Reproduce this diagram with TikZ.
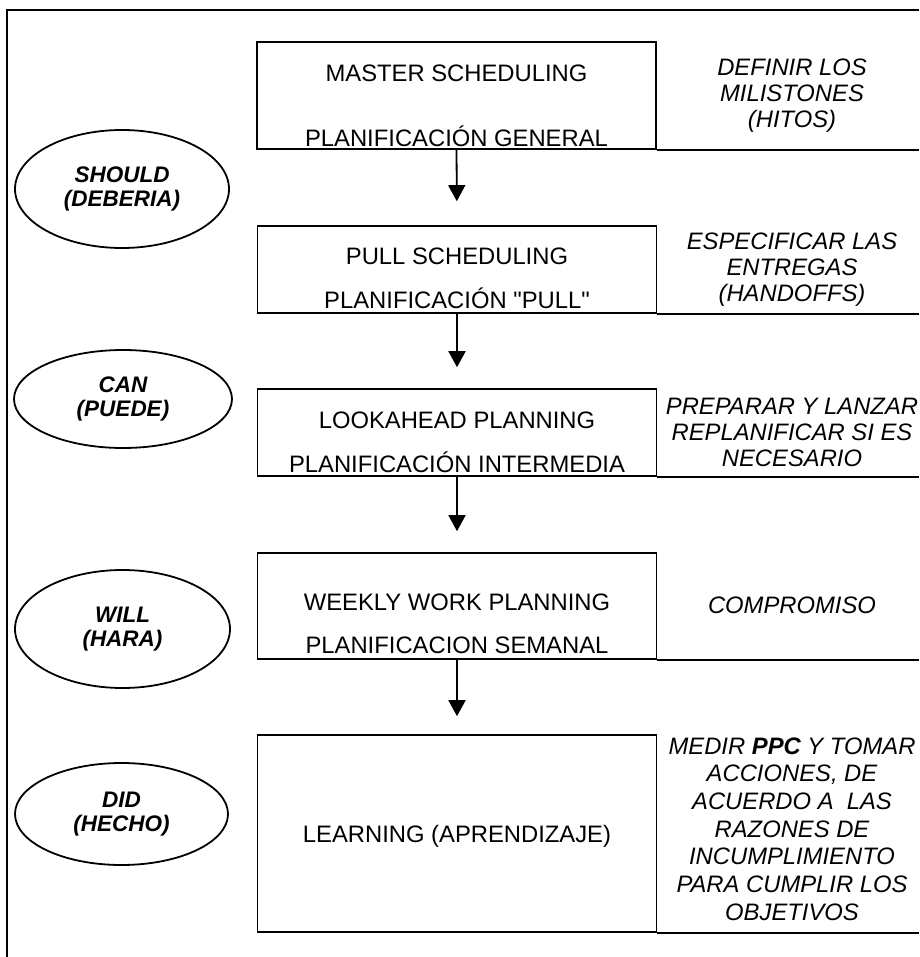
\documentclass[tikz,border=0pt]{standalone}
\usepackage{fontspec}
\setmainfont{Liberation Sans}[Ligatures=TeXOff]
\usetikzlibrary{arrows.meta,shapes.geometric}
\begin{document}
\begin{tikzpicture}[x=1pt,y=-1pt,
  stagebox/.style={draw, line width=1.6pt, inner sep=0pt, minimum width=399pt},
  boxtext/.style={anchor=base, inner sep=0pt, font=\fontsize{23.8}{27}\selectfont},
  goal/.style={align=center, inner sep=0pt, font=\fontsize{23.8}{26}\selectfont\itshape},
  mode/.style={draw, ellipse, line width=1.8pt, inner sep=0pt, align=center,
    font=\fontsize{22.5}{24.5}\selectfont\bfseries\itshape},
  flow/.style={-{Triangle[length=16pt,width=17pt]}, line width=1.8pt},
  rowrule/.style={line width=1.6pt}]

\useasboundingbox (0,0) rectangle (919,957);
\fill[white] (0,0) rectangle (919,957);

% outer frame (top and left sides)
\coordinate (fbl) at (7,957);
\coordinate (ftl) at (7,10);
\coordinate (ftr) at (919,10);
\draw[line width=1.8pt] (fbl) -- (ftl) -- (ftr);

% planning stages
\node[stagebox, minimum height=107pt] (b1) at (456.5,95.5) {};
\node[stagebox, minimum height=87pt]  (b2) at (457,269.5) {};
\node[stagebox, minimum height=87pt]  (b3) at (457,432.5) {};
\node[stagebox, minimum height=106pt] (b4) at (457,606) {};
\node[stagebox, minimum height=197pt] (b5) at (457,833.5) {};

\node[boxtext] (t1a) at (456.5,82)  {MASTER SCHEDULING};
\node[boxtext] (t1b) at (456.5,147) {PLANIFICACIÓN GENERAL};
\node[boxtext] (t2a) at (457,265) {PULL SCHEDULING};
\node[boxtext] (t2b) at (457,308) {PLANIFICACIÓN "PULL"};
\node[boxtext] (t3a) at (457,428) {LOOKAHEAD PLANNING};
\node[boxtext] (t3b) at (457,472) {PLANIFICACIÓN INTERMEDIA};
\node[boxtext] (t4a) at (457,610) {WEEKLY WORK PLANNING};
\node[boxtext] (t4b) at (457,653) {PLANIFICACION SEMANAL};
\node[boxtext] (t5)  at (457,842) {LEARNING (APRENDIZAJE)};

% flow between stages
\draw[flow, shorten >=24pt] (b1.south) -- (b2.north);
\draw[flow, shorten >=21pt] (b2.south) -- (b3.north);
\draw[flow, shorten >=21pt] (b3.south) -- (b4.north);
\draw[flow, shorten >=18pt] (b4.south) -- (b5.north);

% row separators of the right column
\coordinate (edge) at (919,10);
\draw[rowrule] (b1.south east) -- (b1.south east -| edge);
\draw[rowrule] (b2.south east) -- (b2.south east -| edge);
\draw[rowrule] (b3.south east) -- (b3.south east -| edge);
\draw[rowrule] (b4.south east) -- (b4.south east -| edge);
\draw[rowrule] (b5.south east) -- (b5.south east -| edge);

% goals of each stage
\node[goal] (g1) at (792,96)  {DEFINIR LOS\\MILISTONES\\(HITOS)};
\node[goal] (g2) at (792,270) {ESPECIFICAR LAS\\ENTREGAS\\(HANDOFFS)};
\node[goal] (g3) at (792,432) {PREPARAR Y LANZAR\\REPLANIFICAR SI ES\\NECESARIO};
\node[goal] (g4) at (792,605) {COMPROMISO};
\node[goal, font=\fontsize{23.8}{27.7}\selectfont\itshape] (g5) at (792,829)
  {MEDIR {\bfseries PPC} Y TOMAR\\ACCIONES, DE\\ACUERDO A\ \ LAS\\RAZONES DE\\INCUMPLIMIENTO\\PARA CUMPLIR LOS\\OBJETIVOS};

% commitment levels
\node[mode, minimum width=214pt, minimum height=118pt] (e1) at (122,189)   {SHOULD\\(DEBERIA)};
\node[mode, minimum width=218pt, minimum height=98pt]  (e2) at (123,399)   {CAN\\(PUEDE)};
\node[mode, minimum width=215pt, minimum height=118pt] (e3) at (122.5,629) {WILL\\(HARA)};
\node[mode, minimum width=213pt, minimum height=102pt] (e4) at (121.5,814) {DID\\(HECHO)};

\end{tikzpicture}
\end{document}
